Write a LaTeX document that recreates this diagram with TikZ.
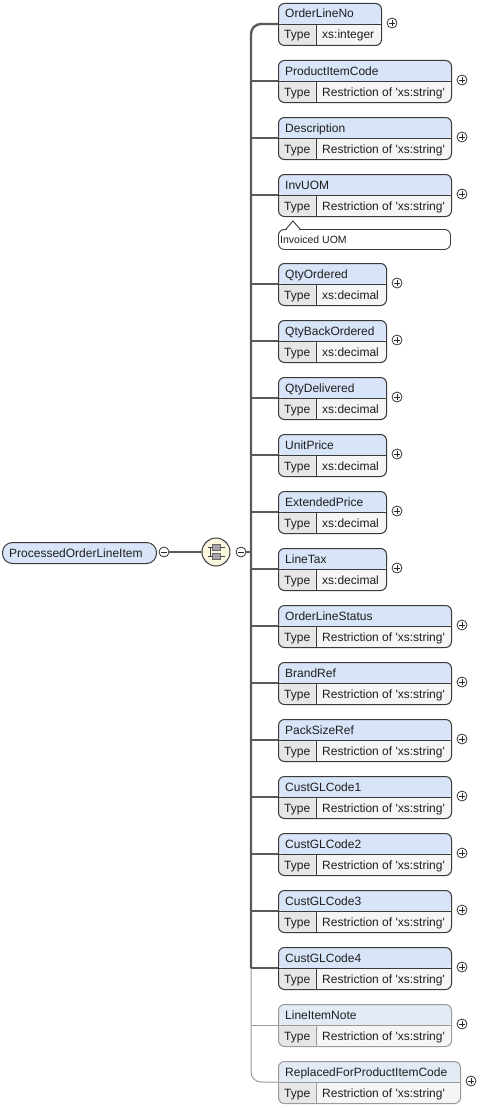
\documentclass[tikz,border=0pt]{standalone}
\usepackage{fontspec}
\setmainfont{Liberation Sans}
\definecolor{bdreq}{HTML}{3A3A3A}
\definecolor{bdopt}{HTML}{9A9A9A}
\definecolor{hdreq}{HTML}{D8E4F7}
\definecolor{hdopt}{HTML}{E2EAF6}
\definecolor{typerow}{HTML}{F5F5F5}
\definecolor{typecell}{HTML}{E6E6E6}
\definecolor{busc}{HTML}{5A5A5A}
\definecolor{thinc}{HTML}{9A9A9A}
\definecolor{seqfill}{HTML}{FBF8E0}
\definecolor{txt}{HTML}{1E1E1E}
\newcommand\qs{\textquotesingle}
\newcommand\plusicon[2]{%
  \node[expcirc] (#1) at #2 {};
  \draw[expsign] ([xshift=-2.6pt]#1.center) -- ([xshift=2.6pt]#1.center)
                 ([yshift=-2.6pt]#1.center) -- ([yshift=2.6pt]#1.center);}
\newcommand\minusicon[2]{%
  \node[expcirc] (#1) at #2 {};
  \draw[expsign] ([xshift=-2.6pt]#1.center) -- ([xshift=2.6pt]#1.center);}
% #1 id, #2 top, #3 width, #4 label, #5 type, #6 kind (req|opt)
\newcommand\elem[6]{%
  \node[elbox, draw=bd#6, minimum width=#3pt, anchor=north west,
        path picture={
          \fill[hd#6] (path picture bounding box.north west) rectangle
                      ([yshift=-21pt]path picture bounding box.north east);
          \fill[typecell] ([yshift=-21pt]path picture bounding box.north west) rectangle
                      ([xshift=38pt]path picture bounding box.south west);
        }] (#1) at (278,#2) {};
  \draw[bd#6, line width=0.9pt] ([yshift=-21pt]#1.north west) -- ([yshift=-21pt]#1.north east);
  \draw[bd#6, line width=0.9pt] ([xshift=38pt,yshift=-21pt]#1.north west) -- ([xshift=38pt]#1.south west);
  \node[lbl, anchor=base west] (#1-l) at ([xshift=7pt,yshift=-15pt]#1.north west) {#4};
  \node[lbl, anchor=base west] (#1-t) at ([xshift=6pt,yshift=-36pt]#1.north west) {Type};
  \node[lbl, anchor=base west] (#1-v) at ([xshift=44pt,yshift=-36pt]#1.north west) {#5};
  \plusicon{#1-p}{([xshift=10pt,yshift=-20pt]#1.north east)}
  \coordinate (#1-in) at ([yshift=-21pt]#1.north west);
}
\begin{document}
\begin{tikzpicture}[x=1pt,y=-1pt,
  elbox/.style={rectangle, rounded corners=6pt, minimum height=42pt, inner sep=0pt,
                line width=1pt, fill=typerow},
  lbl/.style={font=\fontsize{12}{14}\selectfont, inner sep=0pt, text=txt},
  expcirc/.style={circle, draw=black!80, fill=white, line width=0.8pt, minimum size=10pt, inner sep=0pt},
  expsign/.style={draw=black!85, line width=0.8pt},
  bus/.style={draw=busc, line width=2.4pt},
  thinbus/.style={draw=thinc, line width=1pt},
  rootbox/.style={rectangle, rounded corners=10pt, draw=bdreq, fill=hdreq, line width=1pt,
                  minimum width=154pt, minimum height=21pt, inner sep=0pt},
  seqc/.style={circle, draw=bdreq, fill=seqfill, line width=1pt, minimum size=28pt, inner sep=0pt},
  annot/.style={rectangle, rounded corners=6pt, draw=bdreq, fill=white, line width=0.9pt,
                minimum width=172pt, minimum height=20pt, inner sep=0pt}
]
\useasboundingbox (0,0) rectangle (495,1108);

% root
\node[rootbox, anchor=north west] (root) at (2,542) {};
\node[lbl, anchor=base west] (root-l) at ([xshift=7pt,yshift=-15pt]root.north west) {ProcessedOrderLineItem};
\minusicon{root-m}{(164,552)}
\node[seqc] (seq) at (216,552) {};
\draw[line width=1.6pt, draw=busc] (root-m) -- (seq);
% sequence glyph
\draw[black!75, line width=0.8pt] (208,547.5) -- (225,547.5) (208,556.5) -- (225,556.5) (210,547.5) -- (210,556.5);
\draw[black!60, fill=black!35, line width=0.6pt] (212.5,544.5) rectangle (220.5,550.5);
\draw[black!60, fill=black!35, line width=0.6pt] (212.5,553.5) rectangle (220.5,559.5);
\minusicon{seq-m}{(241,552)}
\coordinate (bus) at (251,552);

% elements
\elem{e1}{3}{103}{OrderLineNo}{xs:integer}{req}
\elem{e2}{60}{173}{ProductItemCode}{Restriction of \qs xs:string\qs}{req}
\elem{e3}{117}{173}{Description}{Restriction of \qs xs:string\qs}{req}
\elem{e4}{174}{173}{InvUOM}{Restriction of \qs xs:string\qs}{req}
\elem{e5}{263}{108}{QtyOrdered}{xs:decimal}{req}
\elem{e6}{320}{108}{QtyBackOrdered}{xs:decimal}{req}
\elem{e7}{377}{108}{QtyDelivered}{xs:decimal}{req}
\elem{e8}{434}{108}{UnitPrice}{xs:decimal}{req}
\elem{e9}{491}{108}{ExtendedPrice}{xs:decimal}{req}
\elem{e10}{548}{108}{LineTax}{xs:decimal}{req}
\elem{e11}{605}{173}{OrderLineStatus}{Restriction of \qs xs:string\qs}{req}
\elem{e12}{662}{173}{BrandRef}{Restriction of \qs xs:string\qs}{req}
\elem{e13}{719}{173}{PackSizeRef}{Restriction of \qs xs:string\qs}{req}
\elem{e14}{776}{173}{CustGLCode1}{Restriction of \qs xs:string\qs}{req}
\elem{e15}{833}{173}{CustGLCode2}{Restriction of \qs xs:string\qs}{req}
\elem{e16}{890}{173}{CustGLCode3}{Restriction of \qs xs:string\qs}{req}
\elem{e17}{947}{173}{CustGLCode4}{Restriction of \qs xs:string\qs}{req}
\elem{e18}{1004}{173}{LineItemNote}{Restriction of \qs xs:string\qs}{opt}
\elem{e19}{1061}{182}{ReplacedForProductItemCode}{Restriction of \qs xs:string\qs}{opt}

% annotation
\node[annot, anchor=north west] (ann) at (278,229) {};
\node[font=\fontsize{10.5}{12}\selectfont, inner sep=0pt, text=txt, anchor=base west] (ann-t) at ([xshift=2pt,yshift=-14pt]ann.north west) {Invoiced UOM};
\fill[white] (286.5,230) -- (293,222.3) -- (299.5,230) -- cycle;
\draw[bdreq, line width=0.9pt] (286,229) -- (293,221) -- (300,229);

% connectors
\draw[thinbus, rounded corners=10pt] (bus |- e17-in) |- (e19-in);
\draw[thinbus] (bus |- e18-in) -- (e18-in);
\draw[bus, rounded corners=10pt] (e1-in) -| (bus |- e17-in);
\foreach \i in {2,...,17} { \draw[bus] (bus |- e\i-in) -- (e\i-in); }
\draw[line width=1.6pt, draw=busc] (seq-m) -- (bus);
\end{tikzpicture}
\end{document}
